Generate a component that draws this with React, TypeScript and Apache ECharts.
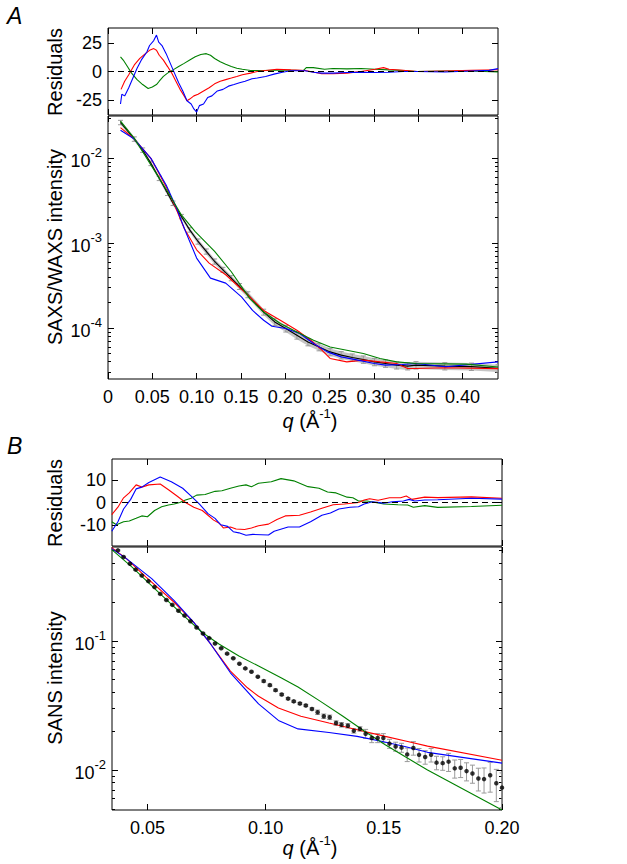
import React, { useEffect, useRef } from 'react';
import * as echarts from 'echarts';

const FONT = '"Liberation Sans", Arial, Helvetica, sans-serif';
const RED = '#ff0000';
const GREEN = '#008000';
const BLUE = '#0000ff';

// ---------- Panel A : residuals ----------
const resA_red: number[][] = [[0.0147,-15.6],[0.0188,-8.5],[0.0234,-2.8],[0.0297,5.7],[0.0359,11.4],[0.0422,15.6],[0.0469,18.5],[0.0516,20.0],[0.0547,18.5],[0.0578,14.2],[0.0625,9.9],[0.0672,4.3],[0.0719,-1.4],[0.0766,-8.5],[0.0813,-15.6],[0.0859,-21.3],[0.0891,-25.6],[0.0922,-24.1],[0.0969,-21.3],[0.1016,-19.9],[0.1078,-17.0],[0.1141,-14.2],[0.1203,-10.8],[0.1266,-8.5],[0.1328,-7.1],[0.1391,-5.7],[0.1453,-4.3],[0.1516,-2.8],[0.1609,-1.4],[0.1684,0],[0.1778,0.9],[0.1905,2.0],[0.2063,1.4],[0.2222,0.9],[0.2285,0],[0.2411,-2.0],[0.2538,-2.0],[0.2696,-1.4],[0.2854,0],[0.3013,2.0],[0.3108,3.4],[0.3171,2.0],[0.3329,1.1],[0.3487,0],[0.38,0.5],[0.41,1.0],[0.44,1.5]];
const resA_blue: number[][] = [[0.0141,-28.4],[0.0156,-19.9],[0.0188,-21.3],[0.0234,-14.2],[0.0281,-5.7],[0.0328,2.8],[0.0375,9.9],[0.0438,17.0],[0.0469,22.7],[0.0516,27.0],[0.0547,31.8],[0.0572,25.6],[0.0609,22.7],[0.0656,15.6],[0.0703,7.1],[0.075,-1.4],[0.0797,-9.9],[0.0844,-17.0],[0.0891,-25.6],[0.0938,-28.4],[0.0969,-32.7],[0.1,-35.5],[0.1031,-29.8],[0.1078,-28.4],[0.1125,-22.7],[0.1172,-21.3],[0.1234,-17.0],[0.1297,-15.6],[0.1359,-12.8],[0.1422,-11.4],[0.1484,-9.9],[0.1547,-8.5],[0.1625,-6.3],[0.1684,-5.7],[0.1778,-4.3],[0.1873,-2.3],[0.1968,-0.6],[0.2063,0.6],[0.2222,0.6],[0.2316,-0.6],[0.2411,-1.4],[0.2538,-1.4],[0.2696,-0.9],[0.2854,-0.6],[0.3013,-0.9],[0.3171,-0.6],[0.3329,0],[0.3487,0],[0.38,-0.5],[0.41,0.5],[0.43,1.0],[0.44,2.5]];
const resA_green: number[][] = [[0.0141,12.8],[0.0172,10.0],[0.0219,4.3],[0.0266,-1.4],[0.0328,-7.1],[0.0391,-11.4],[0.0453,-14.8],[0.05,-13.6],[0.0547,-11.4],[0.0578,-8.5],[0.0625,-4.3],[0.0672,-1.4],[0.0734,1.4],[0.0797,4.3],[0.0859,7.1],[0.0922,10.0],[0.0984,12.8],[0.1047,14.8],[0.1109,15.6],[0.1156,14.2],[0.1203,11.4],[0.1266,8.5],[0.1328,6.3],[0.1391,4.3],[0.1453,2.8],[0.1516,2.0],[0.1609,0.9],[0.1747,0.9],[0.1905,1.1],[0.2063,1.1],[0.2206,0.9],[0.2237,3.4],[0.2316,3.4],[0.2443,2.0],[0.2538,2.6],[0.2696,2.3],[0.2854,2.6],[0.3013,2.0],[0.3171,1.4],[0.3329,0.9],[0.3487,0],[0.38,0.5],[0.41,0.5],[0.44,-0.5]];

// ---------- Panel A : SAXS/WAXS intensity ----------
const intA_data: number[][] = [[0.0141,0.0265],[0.0297,0.0169],[0.0391,0.01253],[0.0484,0.00873],[0.0578,0.00582],[0.0672,0.00388],[0.0734,0.00296],[0.0828,0.00206],[0.0922,0.001435],[0.1016,0.001047],[0.1109,0.000798],[0.1203,0.000608],[0.1297,0.000485],[0.1391,0.000387],[0.1484,0.000309],[0.1578,0.000247],[0.1756,0.000154],[0.1881,0.0001178],[0.2006,0.0000984],[0.2131,0.000082],[0.2256,0.0000684],[0.2381,0.0000597],[0.2506,0.0000522],[0.2631,0.0000478],[0.2756,0.0000449],[0.2881,0.0000425],[0.3006,0.0000398],[0.3131,0.0000381],[0.3256,0.0000364],[0.3381,0.0000355],[0.3475,0.0000364],[0.38,0.0000355],[0.41,0.000035],[0.44,0.0000335]];
const errA: number[] = [0.06,0.06,0.06,0.06,0.06,0.06,0.06,0.06,0.06,0.07,0.07,0.07,0.07,0.07,0.08,0.08,0.08,0.09,0.09,0.1,0.1,0.1,0.1,0.1,0.1,0.1,0.1,0.1,0.1,0.1,0.1,0.1,0.1,0.1];
const intA_red: number[][] = [[0.0141,0.0230],[0.0297,0.0169],[0.0484,0.0100],[0.0656,0.00464],[0.0766,0.00258],[0.0859,0.0015],[0.1,0.000835],[0.1141,0.000582],[0.1328,0.000424],[0.16,0.000232],[0.1756,0.000161],[0.1944,0.0001233],[0.2131,0.000094],[0.2288,0.0000716],[0.2413,0.0000547],[0.2506,0.0000437],[0.2694,0.0000398],[0.2881,0.0000417],[0.3069,0.0000398],[0.3256,0.0000381],[0.3381,0.0000333],[0.3475,0.0000333],[0.38,0.0000339],[0.44,0.0000331]];
const intA_blue: number[][] = [[0.0141,0.0215],[0.0297,0.0169],[0.0484,0.0100],[0.0656,0.00485],[0.0766,0.0027],[0.0875,0.00137],[0.1,0.000667],[0.1156,0.000387],[0.1328,0.000338],[0.1506,0.000232],[0.1631,0.000161],[0.1756,0.0001233],[0.185,0.0001047],[0.2006,0.0000984],[0.2163,0.0000859],[0.2319,0.0000655],[0.2475,0.0000522],[0.2631,0.0000456],[0.2819,0.0000417],[0.3006,0.0000381],[0.3131,0.0000364],[0.3319,0.0000371],[0.3475,0.0000381],[0.381,0.0000348],[0.44,0.0000398]];
const intA_green: number[][] = [[0.0141,0.0275],[0.0297,0.0172],[0.0391,0.01197],[0.0484,0.00835],[0.0578,0.00582],[0.0672,0.00406],[0.0828,0.00215],[0.0984,0.00137],[0.1203,0.0008],[0.1391,0.00046],[0.16,0.000222],[0.1756,0.000154],[0.1944,0.0001127],[0.2131,0.0000897],[0.2319,0.0000716],[0.2506,0.0000597],[0.2694,0.0000547],[0.2881,0.00005],[0.3069,0.0000437],[0.3256,0.0000398],[0.3475,0.0000381],[0.404,0.0000374],[0.44,0.0000347]];

// ---------- Panel B : residuals ----------
const resB_red: number[][] = [[0.0349,-5.4],[0.0375,-2.1],[0.0399,2.1],[0.0423,4.3],[0.0452,7.9],[0.0476,6.9],[0.0506,7.9],[0.0554,8.3],[0.0589,5.7],[0.0625,2.9],[0.0661,0],[0.0696,-2.1],[0.0732,-3.6],[0.0756,-5.7],[0.078,-7.9],[0.0804,-9.3],[0.0821,-11.4],[0.0851,-11.0],[0.0875,-11.9],[0.0911,-12.1],[0.094,-11.4],[0.097,-10.4],[0.1012,-9.7],[0.1048,-7.6],[0.1083,-6.0],[0.1143,-5.7],[0.119,-4.3],[0.1238,-2.6],[0.1286,-1.0],[0.1333,-0.7],[0.1393,0],[0.1417,1.1],[0.144,1.7],[0.1476,1.0],[0.1524,2.1],[0.1571,2.1],[0.1595,2.9],[0.1619,1.4],[0.1673,2.4],[0.1728,2.2],[0.1871,2.5],[0.2,1.9]];
const resB_blue: number[][] = [[0.0349,-12.9],[0.0375,-8.6],[0.0399,-2.9],[0.0429,1.4],[0.0452,6.1],[0.0476,6.9],[0.0506,9.0],[0.0554,11.4],[0.0601,9.3],[0.0649,6.4],[0.0685,2.9],[0.072,-0.7],[0.0756,-5.0],[0.0786,-7.1],[0.081,-10.0],[0.0839,-10.7],[0.0863,-13.1],[0.0887,-13.6],[0.0917,-14.7],[0.0946,-14.3],[0.1012,-14.6],[0.1036,-12.9],[0.1095,-11.0],[0.1143,-11.0],[0.119,-8.6],[0.1238,-5.7],[0.1274,-4.7],[0.131,-2.9],[0.1357,-2.1],[0.1393,-1.9],[0.1417,-0.7],[0.1452,0.3],[0.15,-0.3],[0.1536,0.3],[0.1583,0.7],[0.1607,1.4],[0.1631,0.7],[0.1673,1.1],[0.1728,1.2],[0.1871,1.9],[0.2,1.5]];
const resB_green: number[][] = [[0.0349,-8.6],[0.0369,-10.0],[0.0399,-8.6],[0.0423,-8.3],[0.0452,-7.1],[0.0476,-6.0],[0.05,-6.4],[0.053,-3.6],[0.056,-1.9],[0.0589,-1.1],[0.0613,-0.7],[0.0637,0],[0.0661,1.1],[0.0685,1.9],[0.0708,3.3],[0.0744,3.6],[0.0786,5.0],[0.0815,5.3],[0.0851,6.4],[0.0887,7.4],[0.0917,7.9],[0.094,7.1],[0.097,8.6],[0.1024,9.3],[0.1065,10.7],[0.1119,9.7],[0.1179,7.1],[0.1226,6.4],[0.1262,4.7],[0.1298,4.3],[0.1345,2.4],[0.1369,2.1],[0.1393,0.7],[0.1429,0.7],[0.1464,0],[0.15,-0.7],[0.156,-1.0],[0.1601,-1.1],[0.1625,-2.1],[0.1673,-1.4],[0.1728,-2.2],[0.1871,-1.8],[0.2,-1.2]];

// ---------- Panel B : SANS intensity ----------
const intB_data: number[][] = [[0.0375,0.502],[0.0399,0.446],[0.0426,0.395],[0.045,0.356],[0.0476,0.321],[0.0504,0.290],[0.053,0.261],[0.0554,0.231],[0.058,0.207],[0.0605,0.190],[0.0631,0.171],[0.0657,0.157],[0.0682,0.142],[0.0708,0.127],[0.0735,0.114],[0.0761,0.105],[0.0786,0.0953],[0.0812,0.0877],[0.0837,0.0796],[0.0863,0.0733],[0.0889,0.0665],[0.0914,0.0612],[0.094,0.0577],[0.0967,0.0527],[0.0992,0.0488],[0.1018,0.0454],[0.1042,0.0415],[0.1068,0.0384],[0.1095,0.0357],[0.1119,0.0340],[0.1145,0.0327],[0.117,0.0316],[0.1196,0.0297],[0.122,0.0280],[0.1246,0.0261],[0.1271,0.0256],[0.1298,0.0231],[0.1321,0.0224],[0.1348,0.0220],[0.1373,0.0201],[0.1399,0.0208],[0.1423,0.0191],[0.1449,0.0177],[0.1474,0.0177],[0.1498,0.0177],[0.1524,0.0160],[0.155,0.0152],[0.1575,0.0149],[0.1599,0.0132],[0.1625,0.0148],[0.1649,0.0131],[0.1675,0.0126],[0.170,0.0131],[0.1723,0.0114],[0.1749,0.0113],[0.1774,0.0116],[0.18,0.0103],[0.1825,0.0104],[0.185,0.0098],[0.1875,0.0094],[0.19,0.0086],[0.1924,0.0085],[0.195,0.0091],[0.1976,0.0079],[0.2,0.0073]];
const errB: number[] = [0.01,0.01,0.01,0.01,0.01,0.01,0.01,0.01,0.01,0.01,0.01,0.01,0.01,0.01,0.01,0.01,0.01,0.01,0.01,0.01,0.01,0.01,0.01,0.01,0.02,0.02,0.02,0.02,0.02,0.02,0.02,0.02,0.02,0.04,0.04,0.04,0.04,0.04,0.04,0.04,0.04,0.08,0.08,0.08,0.08,0.08,0.08,0.08,0.12,0.12,0.12,0.12,0.12,0.12,0.12,0.16,0.16,0.16,0.16,0.16,0.2,0.22,0.26,0.28,0.3];
const intB_red: number[][] = [[0.0349,0.527],[0.0411,0.433],[0.0494,0.312],[0.0613,0.199],[0.0696,0.139],[0.0768,0.0942],[0.0851,0.0583],[0.0923,0.0433],[0.097,0.0372],[0.1054,0.0302],[0.1149,0.0261],[0.1268,0.0231],[0.1387,0.0205],[0.1506,0.0182],[0.1601,0.0166],[0.1685,0.0153],[0.2,0.0119]];
const intB_blue: number[][] = [[0.0349,0.518],[0.0411,0.433],[0.0518,0.303],[0.0613,0.205],[0.0696,0.139],[0.0768,0.0942],[0.0851,0.0566],[0.097,0.0325],[0.1054,0.0242],[0.1137,0.0208],[0.1268,0.0195],[0.1387,0.0182],[0.1494,0.0166],[0.1589,0.0152],[0.1685,0.0137],[0.2,0.0113]];
const intB_green: number[][] = [[0.0349,0.508],[0.0435,0.372],[0.0554,0.231],[0.0661,0.152],[0.0732,0.116],[0.0804,0.0942],[0.0887,0.0764],[0.097,0.0638],[0.1065,0.0518],[0.1137,0.0439],[0.1232,0.034],[0.1327,0.0261],[0.1423,0.0197],[0.1506,0.0157],[0.1589,0.0127],[0.1685,0.0100],[0.2,0.0049]];

// ---------- ticks ----------
const xTicksA = [0, 0.05, 0.1, 0.15, 0.2, 0.25, 0.3, 0.35, 0.4];
const xTicksB = [0.05, 0.1, 0.15, 0.2];
const resTicksA = [-25, 0, 25];
const resTicksB = [-10, 0, 10];
const decadesA = [1e-4, 1e-3, 1e-2];
const minorA = [3e-5,4e-5,5e-5,6e-5,7e-5,8e-5,9e-5,2e-4,3e-4,4e-4,5e-4,6e-4,7e-4,8e-4,9e-4,2e-3,3e-3,4e-3,5e-3,6e-3,7e-3,8e-3,9e-3,2e-2,3e-2];
const decadesB = [1e-2, 1e-1];
const minorB = [5e-3,6e-3,7e-3,8e-3,9e-3,2e-2,3e-2,4e-2,5e-2,6e-2,7e-2,8e-2,9e-2,2e-1,3e-1,4e-1,5e-1];

const TICK_FS = 18;
const TITLE_FS = 20;

function buildOption(): any {
  const grids = [
    { left: 108, top: 28, width: 390, height: 87 },
    { left: 108, top: 116, width: 390, height: 263 },
    { left: 112, top: 459, width: 390, height: 87 },
    { left: 112, top: 547, width: 390, height: 263 },
  ].map((g) => ({ ...g, show: true, borderColor: '#000', borderWidth: 1, backgroundColor: 'transparent', containLabel: false }));

  const xAxis: any[] = [];
  const addX = (gridIndex: number, min: number, max: number, ticks: number[], fmt: ((v: number) => string) | null) => {
    for (const pos of ['bottom', 'top']) {
      xAxis.push({
        type: 'value', gridIndex, min, max, position: pos,
        axisLine: { show: false, onZero: false },
        splitLine: { show: false },
        axisTick: { show: true, inside: true, length: 6, customValues: ticks, lineStyle: { color: '#000', width: 1 } },
        axisLabel: pos === 'bottom' && fmt
          ? { show: true, customValues: ticks, formatter: fmt, fontSize: TICK_FS, fontFamily: FONT, color: '#000', margin: 9 }
          : { show: false },
      });
    }
  };
  const fmtA = (v: number) => (v === 0 ? '0' : v.toFixed(2));
  const fmtB = (v: number) => v.toFixed(2);
  addX(0, 0, 0.44, xTicksA, null);
  addX(1, 0, 0.44, xTicksA, fmtA);
  addX(2, 0.035, 0.2, xTicksB, null);
  addX(3, 0.035, 0.2, xTicksB, fmtB);

  const yAxis: any[] = [];
  const supRich = {
    b: { fontSize: TICK_FS, fontFamily: FONT, color: '#000', lineHeight: 24, verticalAlign: 'bottom' },
    s: { fontSize: 13, fontFamily: FONT, color: '#000', lineHeight: 13, verticalAlign: 'top' },
  };
  const addResY = (gridIndex: number, min: number, max: number, ticks: number[]) => {
    for (const pos of ['left', 'right']) {
      yAxis.push({
        type: 'value', gridIndex, min, max, position: pos,
        axisLine: { show: false, onZero: false }, splitLine: { show: false },
        axisTick: { show: true, inside: true, length: 6, customValues: ticks, lineStyle: { color: '#000' } },
        axisLabel: pos === 'left'
          ? { show: true, customValues: ticks, formatter: (v: number) => String(v), fontSize: TICK_FS, fontFamily: FONT, color: '#000', margin: 6 }
          : { show: false },
      });
    }
  };
  const addLogY = (gridIndex: number, min: number, max: number, majors: number[], minors: number[]) => {
    for (const pos of ['left', 'right']) {
      yAxis.push({
        type: 'log', logBase: 10, gridIndex, min, max, position: pos,
        axisLine: { show: false, onZero: false }, splitLine: { show: false },
        axisTick: { show: true, inside: true, length: 6, customValues: majors, lineStyle: { color: '#000' } },
        axisLabel: pos === 'left'
          ? { show: true, customValues: majors, formatter: (v: number) => `{b|10}{s|${Math.round(Math.log10(v))}}`, rich: supRich, margin: 6 }
          : { show: false },
      });
    }
    for (const pos of ['left', 'right']) {
      yAxis.push({
        type: 'log', logBase: 10, gridIndex, min, max, position: pos,
        axisLine: { show: false, onZero: false }, splitLine: { show: false },
        axisTick: { show: true, inside: true, length: 3, customValues: minors, lineStyle: { color: '#000' } },
        axisLabel: { show: false },
      });
    }
  };
  addResY(0, -38, 38, resTicksA);     // 0,1
  addLogY(1, 2.5e-5, 0.0316, decadesA, minorA); // 2,3,4,5
  addResY(2, -19.5, 19.5, resTicksB); // 6,7
  addLogY(3, 0.0049, 0.533, decadesB, minorB); // 8,9,10,11

  const line = (data: number[][], color: string, xi: number, yi: number, extra: any = {}) => ({
    type: 'line', data, xAxisIndex: xi, yAxisIndex: yi, showSymbol: false, symbol: 'none',
    lineStyle: { color, width: 1.1 }, itemStyle: { color }, clip: true, silent: true, z: 3, ...extra,
  });
  const zeroLine = {
    silent: true, symbol: 'none', label: { show: false },
    lineStyle: { color: '#000', type: [6, 4], width: 1 },
    data: [{ yAxis: 0 }],
  };

  const errRender = (cap: number, color: string) => (params: any, api: any) => {
    const x = api.value(0), lo = api.value(1), hi = api.value(2);
    const a = api.coord([x, lo]);
    const b = api.coord([x, hi]);
    const style = { stroke: color, lineWidth: 1 };
    return {
      type: 'group',
      children: [
        { type: 'line', shape: { x1: a[0], y1: a[1], x2: b[0], y2: b[1] }, style },
        { type: 'line', shape: { x1: a[0] - cap, y1: a[1], x2: a[0] + cap, y2: a[1] }, style },
        { type: 'line', shape: { x1: b[0] - cap, y1: b[1], x2: b[0] + cap, y2: b[1] }, style },
      ],
    };
  };
  const bandRender = (params: any, api: any) => {
    const p0 = api.coord([api.value(0), api.value(1)]);
    const p1 = api.coord([api.value(3), api.value(4)]);
    const p2 = api.coord([api.value(3), api.value(5)]);
    const p3 = api.coord([api.value(0), api.value(2)]);
    return { type: 'polygon', shape: { points: [p0, p1, p2, p3] }, style: { fill: 'rgba(150,150,150,0.55)', stroke: 'none' } };
  };

  const errAData = intA_data.map((p, i) => [p[0], p[1] * (1 - (errA[i] ?? 0.08)), p[1] * (1 + (errA[i] ?? 0.08))]);
  const bandAData = intA_data.slice(0, -1).map((p, i) => {
    const n = intA_data[i + 1];
    const e0 = errA[i] ?? 0.08, e1 = errA[i + 1] ?? 0.08;
    return [p[0], p[1] * (1 - e0), p[1] * (1 + e0), n[0], n[1] * (1 - e1), n[1] * (1 + e1)];
  });
  const errBData = intB_data.map((p, i) => [p[0], p[1] * (1 - (errB[i] ?? 0.1)), p[1] * (1 + (errB[i] ?? 0.1))]);

  const series: any[] = [
    // A residuals
    line(resA_green, GREEN, 0, 0, { markLine: zeroLine }),
    line(resA_red, RED, 0, 0),
    line(resA_blue, BLUE, 0, 0),
    // A intensity
    { type: 'custom', xAxisIndex: 2, yAxisIndex: 2, data: bandAData, renderItem: bandRender, clip: true, silent: true, z: 1,
      encode: { x: [0, 3], y: [1, 2, 4, 5] } },
    { type: 'custom', xAxisIndex: 2, yAxisIndex: 2, data: errAData, renderItem: errRender(2.5, '#9a9a9a'), clip: true, silent: true, z: 1,
      encode: { x: 0, y: [1, 2] } },
    line(intA_data, '#000', 2, 2, { z: 2 }),
    line(intA_red, RED, 2, 2),
    line(intA_blue, BLUE, 2, 2),
    line(intA_green, GREEN, 2, 2),
    // B residuals
    line(resB_green, GREEN, 4, 6, { markLine: zeroLine }),
    line(resB_red, RED, 4, 6),
    line(resB_blue, BLUE, 4, 6),
    // B intensity
    { type: 'custom', xAxisIndex: 6, yAxisIndex: 8, data: errBData, renderItem: errRender(2.5, '#9a9a9a'), clip: true, silent: true, z: 1,
      encode: { x: 0, y: [1, 2] } },
    line(intB_red, RED, 6, 8),
    line(intB_blue, BLUE, 6, 8),
    line(intB_green, GREEN, 6, 8),
    { type: 'scatter', xAxisIndex: 6, yAxisIndex: 8, data: intB_data, symbol: 'circle', symbolSize: 4.5,
      itemStyle: { color: '#000' }, silent: true, z: 4, clip: true },
  ];

  const titleStyle = (text: string, size: number) => ({
    text, fontSize: size, fontFamily: FONT, fill: '#000', textAlign: 'center', textVerticalAlign: 'middle',
  });
  const qRich = {
    i: { fontStyle: 'italic', fontSize: TITLE_FS, fontFamily: FONT, fill: '#000', color: '#000', verticalAlign: 'bottom', lineHeight: 24 },
    s: { fontSize: 13, fontFamily: FONT, fill: '#000', color: '#000', verticalAlign: 'top', lineHeight: 13 },
    n: { fontSize: TITLE_FS, fontFamily: FONT, fill: '#000', color: '#000', verticalAlign: 'bottom', lineHeight: 24 },
  };
  const graphic: any[] = [
    { type: 'text', left: 7, top: 4, style: { text: 'A', fontSize: 23, fontStyle: 'italic', fontFamily: FONT, fill: '#000' } },
    { type: 'text', left: 7, top: 434, style: { text: 'B', fontSize: 23, fontStyle: 'italic', fontFamily: FONT, fill: '#000' } },
    { type: 'text', x: 55, y: 72, rotation: Math.PI / 2, style: titleStyle('Residuals', TITLE_FS) },
    { type: 'text', x: 55, y: 247, rotation: Math.PI / 2, style: titleStyle('SAXS/WAXS intensity', TITLE_FS) },
    { type: 'text', x: 55, y: 503, rotation: Math.PI / 2, style: titleStyle('Residuals', TITLE_FS) },
    { type: 'text', x: 55, y: 678, rotation: Math.PI / 2, style: titleStyle('SANS intensity', TITLE_FS) },
    { type: 'text', x: 310, y: 419, style: { text: '{i|q}{n| (Å}{s|-1}{n|)}', rich: qRich, textAlign: 'center', textVerticalAlign: 'middle' } },
    { type: 'text', x: 310, y: 846, style: { text: '{i|q}{n| (Å}{s|-1}{n|)}', rich: qRich, textAlign: 'center', textVerticalAlign: 'middle' } },
  ];

  return {
    animation: false,
    backgroundColor: '#ffffff',
    textStyle: { fontFamily: FONT },
    grid: grids,
    xAxis,
    yAxis,
    series,
    graphic,
  };
}

export default function App() {
  const ref = useRef<HTMLDivElement>(null);
  useEffect(() => {
    if (!ref.current) return;
    const chart = echarts.init(ref.current, null, { renderer: 'svg' });
    chart.setOption(buildOption());
    return () => chart.dispose();
  }, []);
  return (
    <div
      ref={ref}
      style={{ position: 'absolute', left: 0, top: 0, width: 627, height: 864, background: '#fff' }}
    />
  );
}
